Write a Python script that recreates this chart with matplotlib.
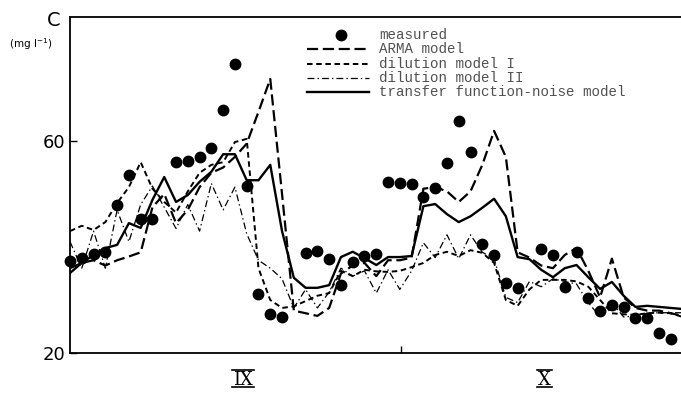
import matplotlib
matplotlib.use('Agg')
import matplotlib.pyplot as plt
from matplotlib.lines import Line2D
import numpy as np

plt.rcParams['lines.scale_dashes'] = False

# ---------------- data (day index from start of record) ----------------
measured_day = [0, 1, 2, 3, 4, 5, 6, 7, 9, 10, 11, 12, 13, 14, 15, 16, 17, 18,
                20, 21, 22, 23, 24, 25, 26, 27, 28, 29, 30, 31, 32, 33, 34, 35,
                36, 37, 38, 40, 41, 42, 43, 44, 45, 46, 47, 48, 49, 50, 51]
measured = [37.4, 37.9, 38.7, 39.1, 47.9, 53.6, 45.3, 45.3, 56.0, 56.2, 57.0,
            58.7, 65.8, 74.5, 51.5, 31.1, 27.4, 26.8, 38.9, 39.2, 37.7, 32.8,
            37.2, 38.3, 38.7, 52.3, 52.1, 51.9, 49.4, 51.1, 55.8, 63.8, 57.9,
            40.6, 38.5, 33.2, 32.3, 39.6, 38.5, 32.5, 39.1, 30.4, 27.9, 29.1,
            28.7, 26.6, 26.6, 23.8, 22.6]

model_day = list(range(53))
arma = [36.0, 37.0, 37.5, 36.5, 37.5, 38.2, 39.0, 47.5, 50.0, 44.5,
        47.0, 51.3, 54.0, 55.0, 57.0, 59.5, 65.5, 71.7, 50.0, 28.0,
        27.5, 27.0, 28.5, 35.0, 36.5, 37.0, 34.5, 37.5, 37.5, 38.0,
        51.0, 51.3, 50.5, 48.5, 50.5, 55.5, 61.9, 57.0, 39.0, 38.0,
        36.5, 36.0, 38.5, 39.8, 35.5, 30.5, 37.8, 30.5, 28.5, 28.0,
        28.0, 27.5, 27.0]
dilution1 = [43.0, 44.0, 43.2, 44.7, 48.3, 51.3, 56.0, 51.0, 48.5, 46.5,
             50.5, 54.0, 55.5, 56.0, 59.8, 60.4, 36.0, 30.0, 28.5, 28.8,
             29.8, 30.8, 31.3, 35.5, 34.5, 35.7, 35.4, 35.3, 35.5, 36.2,
             37.0, 38.5, 39.1, 38.3, 39.4, 38.9, 37.0, 30.0, 28.9, 32.0,
             33.8, 33.8, 33.8, 33.5, 32.5, 30.0, 27.5, 27.3, 27.2, 27.5,
             27.6, 27.5, 26.8]
dilution2 = [41.0, 36.0, 43.0, 36.0, 47.0, 41.0, 48.0, 51.5, 47.5, 43.5,
             48.0, 43.0, 52.0, 47.0, 51.3, 42.5, 37.5, 36.0, 34.0, 28.5,
             32.0, 28.5, 31.5, 36.0, 34.5, 35.5, 31.3, 35.7, 32.0, 35.5,
             40.8, 38.0, 42.3, 37.8, 42.3, 39.0, 37.8, 30.5, 29.5, 33.5,
             32.5, 34.0, 33.5, 33.0, 29.5, 26.8, 29.5, 26.8, 27.0, 27.5,
             27.6, 27.6, 27.6]
tfn = [35.1, 37.0, 38.5, 39.8, 40.4, 44.5, 43.6, 48.9, 53.2, 48.5,
       49.8, 52.3, 54.2, 57.5, 57.5, 52.6, 52.6, 55.5, 43.0, 34.2,
       32.3, 32.3, 32.8, 38.1, 39.1, 37.9, 36.6, 38.1, 38.1, 38.3,
       47.7, 48.1, 46.2, 44.7, 45.8, 47.4, 49.1, 45.8, 38.1, 37.7,
       35.7, 34.3, 36.0, 36.6, 34.3, 32.1, 33.4, 30.8, 28.7, 28.9,
       28.7, 28.5, 28.3]

month_boundary = [28.1]
month_labels = ['IX', 'X']
month_label_pos = [14.7, 40.3]
y_ticks = [20, 60]
labels = ['measured', 'ARMA model', 'dilution model I', 'dilution model II',
          'transfer function-noise model']

# ---------------- styles ----------------
sty_arma = dict(color='black', lw=1.6, dashes=(8, 3.4))
sty_d1 = dict(color='black', lw=1.4, dashes=(4.0, 2.6))
sty_d2 = dict(color='black', lw=0.9, dashes=(5, 2.2, 1, 2.2))
sty_tfn = dict(color='black', lw=1.7, linestyle='-')

W, H = 681, 393
fig = plt.figure(figsize=(W / 100, H / 100), dpi=100)
L, R, T, B = 70, 681, 17, 353
ax = fig.add_axes([L / W, 1 - B / H, (R - L) / W, (B - T) / H])
ax.set_xlim(0, (R - L) / 11.78)
ax.set_ylim(20, 20 + (B - T) / 5.3)

ax.plot(model_day, arma, **sty_arma)
ax.plot(model_day, dilution1, **sty_d1)
ax.plot(model_day, dilution2, **sty_d2)
ax.plot(model_day, tfn, **sty_tfn)
ax.plot(measured_day, measured, 'o', color='black', ms=7.5, clip_on=False,
        zorder=5)

for s in ['top', 'left', 'bottom']:
    ax.spines[s].set_linewidth(1.3)
ax.spines['right'].set_visible(False)

ax.set_yticks(y_ticks)
ax.set_yticklabels([str(v) for v in y_ticks])
ax.tick_params(axis='y', direction='in', length=5, width=1, pad=3,
               labelsize=13)
ax.set_xticks(month_boundary)
ax.set_xticklabels([])
ax.tick_params(axis='x', direction='in', length=5, width=1)

# month labels (roman numerals with bars)
tr = ax.get_xaxis_transform()
for pos, lab in zip(month_label_pos, month_labels):
    t = ax.text(pos, -27 / 336, lab, transform=tr, ha='center', va='center',
                fontsize=13, family='DejaVu Serif')
fig.canvas.draw()
rend = fig.canvas.get_renderer()
for t in ax.texts:
    bb = t.get_window_extent(rend)
    for yy in (bb.y1 + 1, bb.y0 + 2):
        fig.add_artist(Line2D([bb.x0 - 1, bb.x1 + 1], [yy, yy],
                              transform=None, color='black', lw=1.2))

def fx(px):
    return px / W

def fy(py):
    return 1 - py / H

# axis label
fig.text(fx(54), fy(20), 'C', fontsize=14, ha='center', va='center')
fig.text(fx(31), fy(44), r'(mg l$^{-1}$)', fontsize=7.5, ha='center',
         va='center')

# legend (drawn manually)
rows = [35, 49, 64, 78, 92]
fig.add_artist(Line2D([fx(341)], [fy(rows[0])], marker='o', color='black',
                      ms=7.5, lw=0, transform=fig.transFigure))
for py, sty in zip(rows[1:], [sty_arma, sty_d1, sty_d2, sty_tfn]):
    fig.add_artist(Line2D([fx(307), fx(369)], [fy(py), fy(py)],
                          transform=fig.transFigure, **sty))
for py, lab in zip(rows, labels):
    fig.text(fx(379), fy(py), lab, family='Liberation Mono', fontsize=10.2,
             color='#505050', ha='left', va='center')

fig.savefig('out.png', dpi=100)
